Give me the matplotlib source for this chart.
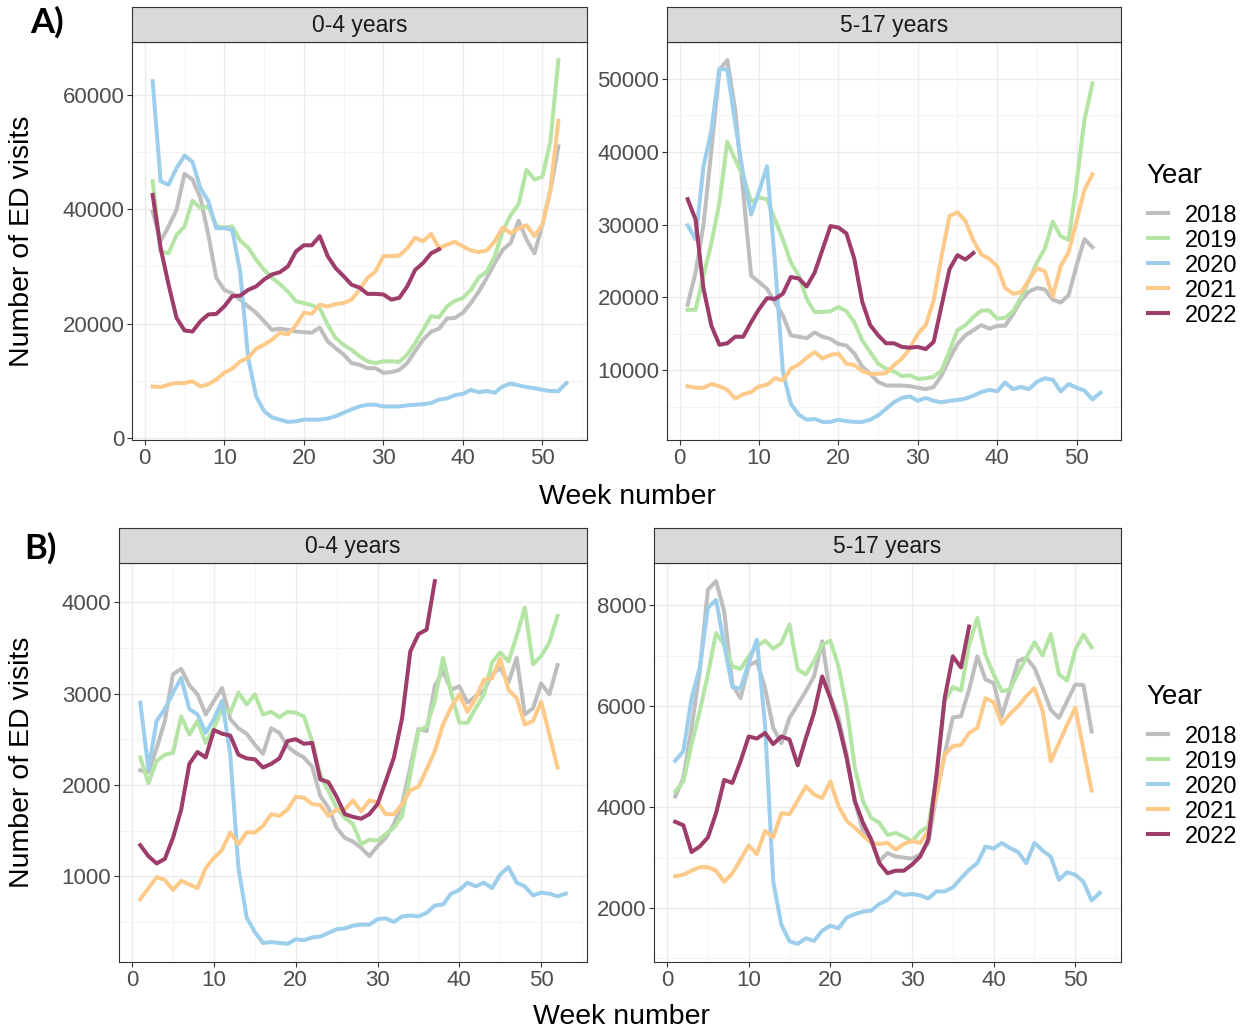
# ED visits by week, two age groups, two panels rows (A and B)
import matplotlib
matplotlib.use('Agg')
import matplotlib.pyplot as plt
from matplotlib.lines import Line2D
from matplotlib.ticker import MultipleLocator

# Years and colours
years = ['2018', '2019', '2020', '2021', '2022']
colors = ['#BEBEBE', '#B5E5A5', '#9DCFEC', '#FDCA8A', '#9E3D6B']

# A) 0-4 years
a04_2018 = [39600, 34400, 37000, 39900, 46200, 45200, 42000, 35500, 28000, 25900,
            25300, 24200, 23000, 21900, 20400, 18900, 19100, 18900, 18600, 18500,
            18400, 19300, 16900, 15700, 14600, 13100, 12800, 12200, 12200, 11400,
            11500, 11900, 13100, 15200, 17200, 18600, 19100, 20900, 21000, 21900,
            23600, 25600, 28000, 30600, 32900, 34100, 38000, 34700, 32300, 37300,
            43400, 51000]
a04_2019 = [44900, 32600, 32300, 35500, 37000, 41500, 40200, 40500, 37000, 36800,
            37000, 34500, 33300, 31200, 29400, 28000, 26900, 25600, 23900, 23600,
            23200, 22700, 19800, 17500, 16300, 15400, 14300, 13400, 13100, 13400,
            13400, 13300, 14600, 16600, 18900, 21300, 21100, 23000, 24000, 24500,
            25900, 28100, 29100, 31800, 36100, 39000, 40900, 46900, 45200, 45700,
            51900, 66100]
a04_2020 = [62400, 44900, 44300, 47200, 49400, 48300, 43700, 41400, 36700, 36700,
            36400, 29100, 14000, 7300, 4700, 3600, 3200, 2800, 2900, 3200,
            3200, 3200, 3400, 3800, 4400, 5000, 5500, 5800, 5800, 5500,
            5500, 5500, 5700, 5800, 5900, 6100, 6700, 6900, 7500, 7700,
            8400, 8000, 8200, 7900, 9000, 9500, 9200, 8900, 8700, 8400,
            8200, 8200, 9600]
a04_2021 = [9000, 8900, 9300, 9600, 9600, 9900, 9000, 9400, 10200, 11400,
            12100, 13400, 14000, 15600, 16300, 17200, 18400, 18100, 19700, 21900,
            21700, 23300, 23000, 23400, 23600, 24200, 25900, 28000, 29100, 31800,
            31800, 31900, 33200, 35000, 34400, 35700, 33200, 33800, 34300, 33500,
            32800, 32500, 32800, 34400, 36800, 35800, 36700, 37200, 35300, 37300,
            43400, 55500]
a04_2022 = [42500, 33200, 26800, 21000, 18800, 18600, 20400, 21600, 21700, 23000,
            24800, 24900, 25900, 26500, 27700, 28600, 29000, 30000, 32600, 33700,
            33700, 35300, 31800, 29700, 28300, 26800, 26300, 25200, 25200, 25100,
            24200, 24500, 26500, 29400, 30600, 32300, 33000]

# A) 5-17 years
a517_2018 = [19000, 23400, 30000, 40300, 51200, 52600, 45700, 34400, 23000, 22100,
             21200, 19300, 17500, 14800, 14600, 14400, 15200, 14600, 14300, 13600,
             13400, 12300, 10500, 9500, 8400, 7900, 7900, 7900, 7800, 7600,
             7400, 7700, 9300, 11600, 13600, 14800, 15500, 16200, 15700, 16100,
             16100, 17700, 19600, 20800, 21300, 21100, 19700, 19300, 20300, 24400,
             28000, 26900]
a517_2019 = [18300, 18300, 23000, 27500, 33000, 41400, 38900, 36600, 33200, 33700,
             33500, 30700, 28000, 24800, 23000, 19800, 18000, 18000, 18100, 18700,
             18100, 16600, 14100, 12500, 10900, 10200, 9800, 9200, 9300, 8800,
             8900, 9100, 10000, 12700, 15500, 16200, 17300, 18200, 18200, 17100,
             17200, 18100, 20000, 22300, 24800, 26700, 30400, 28400, 27900, 35700,
             44400, 49400]
a517_2020 = [29900, 28000, 38000, 43000, 51400, 51300, 43900, 36900, 31400, 34600,
             38000, 24800, 9800, 5400, 3900, 3200, 3300, 2900, 2900, 3200,
             3000, 2900, 2900, 3200, 3800, 4700, 5600, 6200, 6400, 5800,
             6200, 5800, 5600, 5800, 5900, 6100, 6500, 7000, 7300, 7100,
             8300, 7400, 7700, 7400, 8400, 8900, 8700, 7100, 8100, 7600,
             7200, 6000, 6900]
a517_2021 = [7800, 7600, 7600, 8100, 7800, 7300, 6100, 6700, 7000, 7800,
             8000, 8900, 8600, 10200, 10800, 11700, 12500, 11600, 12100, 12300,
             10900, 10700, 9900, 9500, 9500, 9600, 10700, 11600, 13000, 15000,
             16200, 19600, 25700, 31200, 31700, 30500, 27800, 25900, 25300, 24300,
             21300, 20500, 20700, 22400, 24000, 23600, 20100, 24300, 26200, 30500,
             34800, 36900]
a517_2022 = [33500, 30700, 21200, 16100, 13500, 13700, 14600, 14600, 16600, 18400,
             19900, 19800, 20500, 22800, 22600, 21500, 23400, 26600, 29800, 29600,
             28800, 25300, 19400, 16200, 14800, 13700, 13700, 13200, 13100, 13200,
             12900, 13900, 18900, 23900, 25800, 25200, 26100]

# B) 0-4 years
b04_2018 = [2160, 2140, 2400, 2700, 3210, 3270, 3090, 2990, 2770, 2920,
            3060, 2720, 2620, 2560, 2440, 2340, 2620, 2570, 2420, 2350,
            2300, 2200, 1880, 1750, 1530, 1420, 1380, 1310, 1220, 1330,
            1420, 1570, 1790, 2190, 2610, 2590, 3080, 3250, 3040, 3080,
            2900, 2970, 3030, 3210, 3280, 3120, 3390, 2770, 2840, 3110,
            2990, 3310]
b04_2019 = [2300, 2020, 2260, 2330, 2350, 2750, 2550, 2700, 2460, 2620,
            2840, 2790, 3010, 2880, 2990, 2770, 2800, 2740, 2800, 2790,
            2750, 2480, 2110, 1930, 1750, 1640, 1570, 1350, 1400, 1390,
            1460, 1530, 1660, 2110, 2590, 2640, 2920, 3390, 3010, 2680,
            2680, 2840, 2990, 3340, 3450, 3350, 3630, 3940, 3320, 3410,
            3560, 3850]
b04_2020 = [2900, 2170, 2700, 2830, 3010, 3170, 2830, 2770, 2570, 2720,
            2920, 2330, 1090, 550, 390, 270, 280, 270, 260, 310,
            300, 330, 340, 380, 420, 430, 460, 470, 470, 530,
            540, 500, 560, 570, 560, 600, 680, 690, 810, 850,
            930, 890, 930, 870, 1020, 1100, 930, 890, 790, 820,
            810, 780, 810]
b04_2021 = [750, 870, 990, 960, 850, 950, 910, 870, 1090, 1200,
            1290, 1480, 1350, 1480, 1480, 1550, 1680, 1660, 1730, 1870,
            1860, 1790, 1780, 1660, 1730, 1730, 1830, 1710, 1830, 1810,
            1680, 1680, 1790, 1940, 1980, 2170, 2370, 2660, 2850, 2990,
            2800, 2950, 3150, 3170, 3380, 3040, 2950, 2660, 2700, 2910,
            2550, 2190]
b04_2022 = [1340, 1220, 1140, 1190, 1420, 1730, 2230, 2360, 2300, 2600,
            2560, 2540, 2330, 2290, 2280, 2190, 2230, 2290, 2480, 2500,
            2450, 2460, 2060, 2030, 1870, 1680, 1650, 1630, 1680, 1790,
            2040, 2300, 2730, 3460, 3650, 3700, 4230]

# B) 5-17 years
b517_2018 = [4210, 4580, 5570, 6690, 8310, 8480, 7880, 6430, 6160, 6810,
             6890, 6360, 5570, 5270, 5770, 6030, 6300, 6590, 7290, 6200,
             5770, 5040, 4120, 3520, 3320, 2930, 3090, 3020, 3000, 2980,
             3060, 3290, 4250, 5040, 5780, 5800, 6330, 6990, 6530, 6460,
             5800, 6330, 6900, 6960, 6760, 6360, 5930, 5770, 6100, 6430,
             6420, 5500]
b517_2019 = [4310, 4510, 5240, 5900, 6630, 7450, 7220, 6790, 6740, 6990,
             7190, 7300, 7140, 7250, 7620, 6730, 6630, 6890, 7220, 7300,
             6790, 5970, 4780, 4120, 3790, 3690, 3450, 3490, 3420, 3320,
             3510, 3620, 4580, 6100, 6380, 6310, 7220, 7750, 7020, 6630,
             6300, 6330, 6660, 6960, 7270, 7010, 7430, 6630, 6510, 7120,
             7420, 7170]
b517_2020 = [4920, 5110, 6160, 6760, 7950, 8110, 7220, 6380, 6350, 6860,
             7320, 5630, 2530, 1670, 1340, 1290, 1400, 1350, 1550, 1650,
             1600, 1810, 1880, 1930, 1950, 2080, 2160, 2320, 2260, 2280,
             2250, 2190, 2330, 2330, 2410, 2590, 2760, 2890, 3220, 3180,
             3290, 3190, 3110, 2890, 3290, 3140, 3020, 2560, 2710, 2660,
             2520, 2150, 2300]
b517_2021 = [2630, 2660, 2740, 2810, 2810, 2740, 2520, 2690, 2960, 3240,
             3070, 3530, 3400, 3880, 3860, 4130, 4410, 4250, 4180, 4510,
             4020, 3730, 3590, 3440, 3290, 3270, 3290, 3160, 3270, 3330,
             3290, 3530, 4250, 5040, 5210, 5230, 5470, 5570, 6160, 6080,
             5650, 5850, 6000, 6200, 6360, 5910, 4910, 5270, 5630, 5970,
             5140, 4330]
b517_2022 = [3710, 3640, 3110, 3220, 3400, 3880, 4540, 4480, 4910, 5400,
             5360, 5470, 5250, 5400, 5340, 4830, 5370, 5870, 6590, 6160,
             5650, 4970, 4120, 3690, 3360, 2890, 2690, 2740, 2740, 2860,
             3020, 3360, 4640, 6160, 6990, 6770, 7580]

panel_titles = ['0-4 years', '5-17 years']

W, H = 1247, 1034
fig = plt.figure(figsize=(W / 100, H / 100), dpi=100)
plt.rcParams['font.family'] = ['Liberation Sans', 'DejaVu Sans']


def rect(l, t, r, b):
    return [l / W, 1 - b / H, (r - l) / W, (b - t) / H]


def draw_panel(box, strip_box, title, series, major, minor):
    ax = fig.add_axes(rect(*box))
    for vals, col in zip(series, colors):
        ax.plot(range(1, len(vals) + 1), vals, color=col, lw=2.9,
                solid_joinstyle='round', zorder=3)
    ax.xaxis.set_major_locator(MultipleLocator(10))
    ax.xaxis.set_minor_locator(MultipleLocator(5))
    ax.yaxis.set_major_locator(MultipleLocator(major))
    ax.yaxis.set_minor_locator(MultipleLocator(minor))
    ax.grid(which='major', color='#EBEBEB', lw=1.0, zorder=0)
    ax.grid(which='minor', color='#F2F2F2', lw=0.6, zorder=0)
    ax.tick_params(which='major', direction='out', length=3.5, width=0.8,
                   color='#333333', labelcolor='#4D4D4D', labelsize=16, pad=2)
    ax.tick_params(which='minor', length=0)
    for s in ax.spines.values():
        s.set_color('#333333')
        s.set_linewidth(0.8)
    # strip on top
    st = fig.add_axes(rect(*strip_box))
    st.set_facecolor('#D9D9D9')
    st.set_xticks([])
    st.set_yticks([])
    for s in st.spines.values():
        s.set_color('#333333')
        s.set_linewidth(0.8)
    st.text(0.5, 0.47, title, ha='center', va='center', fontsize=16.5,
            color='#1A1A1A', transform=st.transAxes)
    return ax


# Row A
draw_panel((132, 42, 587, 440), (132, 7, 587, 42), panel_titles[0],
           [a04_2018, a04_2019, a04_2020, a04_2021, a04_2022], 20000, 10000)
draw_panel((667, 42, 1121, 440), (667, 7, 1121, 42), panel_titles[1],
           [a517_2018, a517_2019, a517_2020, a517_2021, a517_2022], 10000, 5000)
# Row B
draw_panel((119, 563, 587, 962), (119, 528, 587, 563), panel_titles[0],
           [b04_2018, b04_2019, b04_2020, b04_2021, b04_2022], 1000, 500)
draw_panel((654, 563, 1121, 962), (654, 528, 1121, 563), panel_titles[1],
           [b517_2018, b517_2019, b517_2020, b517_2021, b517_2022], 2000, 1000)

# Axis titles and panel letters
for yc in [241, 762]:
    fig.text(22 / W, 1 - yc / H, 'Number of ED visits', rotation=90,
             ha='center', va='center', fontsize=20.5)
fig.text(627 / W, 1 - 497 / H, 'Week number', ha='center', va='center', fontsize=20.5)
fig.text(621 / W, 1 - 1017 / H, 'Week number', ha='center', va='center', fontsize=20.5)
fig.text(47 / W, 1 - 22 / H, 'A)', ha='center', va='center', fontsize=25,
         fontweight='bold', family=['Lato', 'DejaVu Sans'])
fig.text(40 / W, 1 - 548 / H, 'B)', ha='center', va='center', fontsize=25,
         fontweight='bold', family=['Lato', 'DejaVu Sans'])

# Legends (drawn by hand to match spacing)
for title_y in [176, 697]:
    fig.text(1146 / W, 1 - title_y / H, 'Year', ha='left', va='center', fontsize=20)
    for i, (yr, col) in enumerate(zip(years, colors)):
        y = 1 - (title_y + 37 + 25 * i) / H
        fig.add_artist(Line2D([1148 / W, 1168 / W], [y, y], color=col, lw=2.9,
                              transform=fig.transFigure))
        fig.text(1185 / W, y - 3 / H, yr, ha='left', va='center', fontsize=17)

fig.savefig('out.png', dpi=100)
